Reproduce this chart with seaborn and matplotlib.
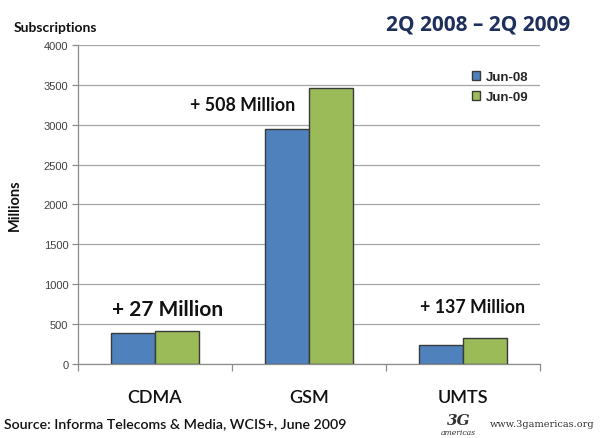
import matplotlib
matplotlib.use("Agg")
import matplotlib.pyplot as plt
import seaborn as sns
import pandas as pd

categories = ["CDMA", "GSM", "UMTS"]
series_names = ["Jun-08", "Jun-09"]
jun08 = [390, 2950, 240]
jun09 = [417, 3458, 328]
growth_labels = ["+ 27 Million", "+ 508 Million", "+ 137 Million"]
y_ticks = [0, 500, 1000, 1500, 2000, 2500, 3000, 3500, 4000]

df = pd.DataFrame({
    "tech": categories * 2,
    "period": [series_names[0]] * 3 + [series_names[1]] * 3,
    "value": jun08 + jun09,
})

sns.set_theme(style="white")
plt.rcParams["font.family"] = ["Liberation Sans", "DejaVu Sans"]
CAL = ["Lato", "DejaVu Sans"]

fig = plt.figure(figsize=(6.0, 4.39), dpi=100)
ax = fig.add_axes([0.13, 0.1686, 0.77, 0.7267])

palette = {"Jun-08": "#4F81BD", "Jun-09": "#9BBB59"}
sns.barplot(data=df, x="tech", y="value", hue="period", palette=palette,
            width=0.57, gap=0, edgecolor="#3a3a3a", linewidth=1.0,
            saturation=1, ax=ax, legend=True)

ax.set_ylim(0, 4000)
ax.set_xlim(-0.5, 2.5)
ax.set_yticks(y_ticks)
ax.set_yticklabels([str(v) for v in y_ticks], fontsize=8, color="#404040")
ax.yaxis.grid(True, color="#a6a6a6", linewidth=0.9)
ax.set_axisbelow(True)
for s in ["top", "right"]:
    ax.spines[s].set_visible(False)
for s in ["left", "bottom"]:
    ax.spines[s].set_color("#8c8c8c")
    ax.spines[s].set_linewidth(0.9)

ax.tick_params(axis="y", left=True, length=4, color="#8c8c8c", width=0.9, pad=3)
ax.set_xticks([0, 1, 2])
ax.set_xticklabels(categories, fontsize=13, fontfamily=CAL, fontweight="semibold",
                   color="#111111")
ax.tick_params(axis="x", bottom=False, pad=12)
ax.set_xticks([-0.5, 0.5, 1.5, 2.5], minor=True)
ax.tick_params(axis="x", which="minor", bottom=True, length=5, color="#8c8c8c", width=0.9)

ax.set_xlabel("")
ax.set_ylabel("Millions", fontsize=10.5, fontweight="bold",
              fontfamily=CAL, labelpad=16, color="#111111")

leg = ax.legend(loc="upper right", bbox_to_anchor=(1.0, 0.955), frameon=False,
                fontsize=9.5, handlelength=0.6, handleheight=0.6, handletextpad=0.4,
                labelspacing=0.6)
for t in leg.get_texts():
    t.set_fontweight("bold")

# growth annotations: (x in category units, y in data units, font size)
ann_pos = [(0.08, 690, 15), (0.57, 3250, 12.8), (2.065, 720, 12.8)]
for lab, (x, y, fs) in zip(growth_labels, ann_pos):
    ax.text(x, y, lab, ha="center", va="center", fontsize=fs, fontweight="bold",
            fontfamily=CAL, color="#111111")

fig.text(0.023, 0.937, "Subscriptions", fontsize=10, fontweight="bold",
         fontfamily=CAL, color="#111111", va="center")
fig.text(0.95, 0.942, "2Q 2008 \u2013 2Q 2009", fontsize=15, fontweight="bold",
         fontfamily=["Open Sans", "DejaVu Sans"], color="#1f2f5c", ha="right", va="center")
fig.text(0.007, 0.035, "Source: Informa Telecoms & Media, WCIS+, June 2009", fontsize=10.2,
         fontweight="semibold", fontfamily=CAL, color="#111111", va="center")
fig.text(0.745, 0.04, "3G", fontsize=11, fontstyle="italic", fontweight="bold",
         color="#333333", va="center", fontfamily=["DejaVu Serif"])
fig.text(0.735, 0.014, "americas", fontsize=5.5, fontstyle="italic", color="#333333",
         va="center", fontfamily=["DejaVu Serif"])
fig.text(0.99, 0.032, "www.3gamericas.org", fontsize=7, color="#333333",
         ha="right", va="center", fontfamily=["DejaVu Serif"])

fig.savefig("out.png", dpi=100, facecolor="white")
